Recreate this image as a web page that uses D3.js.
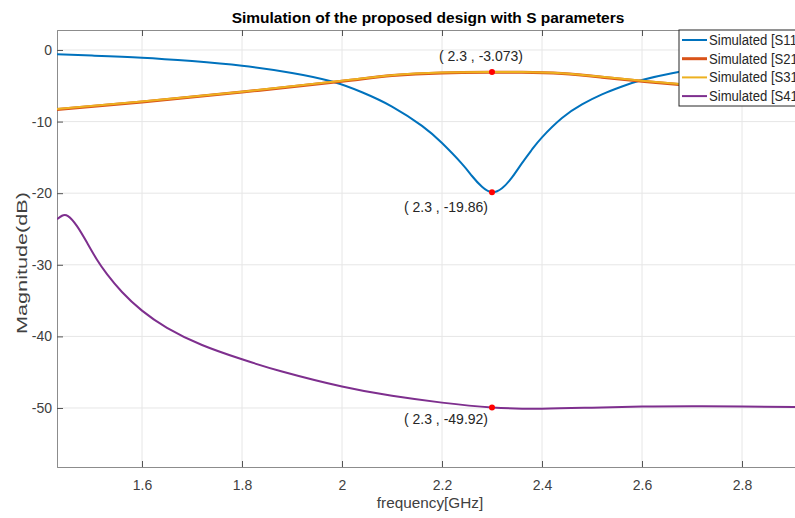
<!DOCTYPE html>
<html>
<head>
<meta charset="utf-8">
<script src="https://cdn.jsdelivr.net/npm/d3@7"></script>
<style>
  body { margin: 0; background: #fff; }
  svg { display: block; font-family: "Liberation Sans", Arial, sans-serif; }
</style>
</head>
<body>
<svg id="chart" width="795" height="518"></svg>
<script>
// S11
const s11Freq = [1.43, 1.5, 1.6, 1.7, 1.8, 1.9, 1.98, 2.04, 2.1, 2.16, 2.2, 2.24, 2.26, 2.28, 2.3, 2.32, 2.34, 2.36, 2.38, 2.4, 2.44, 2.48, 2.52, 2.56, 2.6, 2.66, 2.72, 2.8, 2.92]
const s11Mag = [-0.6, -0.78, -1.07, -1.55, -2.2, -3.2, -4.4, -5.9, -7.9, -10.6, -13.0, -15.9, -17.6, -19.1, -19.86, -19.3, -17.8, -15.8, -13.9, -12.2, -9.5, -7.6, -6.2, -5.1, -4.2, -3.25, -2.6, -2.0, -1.4]
// S21 / S31 (almost on top of each other)
const s21Freq = [1.43, 1.6, 1.8, 2.0, 2.1, 2.2, 2.3, 2.36, 2.44, 2.52, 2.6, 2.68, 2.8, 2.92]
const s21Mag = [-8.3, -7.26, -5.88, -4.36, -3.58, -3.2, -3.12, -3.12, -3.3, -3.8, -4.36, -4.86, -5.66, -6.46]
const s31Freq = [1.43, 1.6, 1.8, 2.0, 2.1, 2.2, 2.3, 2.36, 2.44, 2.52, 2.6, 2.68, 2.8, 2.92]
const s31Mag = [-8.24, -7.2, -5.82, -4.3, -3.52, -3.14, -3.073, -3.07, -3.25, -3.75, -4.3, -4.8, -5.6, -6.4]
// S41
const s41Freq = [1.43, 1.44, 1.452, 1.47, 1.49, 1.51, 1.53, 1.56, 1.6, 1.65, 1.72, 1.8, 1.88, 2.0, 2.1, 2.2, 2.3, 2.4, 2.5, 2.6, 2.7, 2.8, 2.92]
const s41Mag = [-23.65, -23.15, -23.2, -24.6, -26.9, -29.3, -31.3, -33.8, -36.4, -38.8, -41.2, -43.2, -44.9, -47.0, -48.3, -49.25, -49.92, -50.1, -49.95, -49.8, -49.75, -49.8, -49.85]

const xTicks = [1.6, 1.8, 2, 2.2, 2.4, 2.6, 2.8]
const yTicks = [0, -10, -20, -30, -40, -50]

const markerPoints = [
  { f: 2.3, v: -3.073, label: '( 2.3 , -3.073)', dx: -11, dy: -11 },
  { f: 2.3, v: -19.86, label: '( 2.3 , -19.86)', dx: -46, dy: 20 },
  { f: 2.3, v: -49.92, label: '( 2.3 , -49.92)', dx: -46, dy: 17 }
]

const series = [
  { name: 'Simulated [S11]', freq: s11Freq, mag: s11Mag, color: '#0072BD', width: 2 },
  { name: 'Simulated [S21]', freq: s21Freq, mag: s21Mag, color: '#D95319', width: 3 },
  { name: 'Simulated [S31]', freq: s31Freq, mag: s31Mag, color: '#EDB120', width: 2 },
  { name: 'Simulated [S41]', freq: s41Freq, mag: s41Mag, color: '#7E2F8E', width: 2 }
]

const svg = d3.select('#chart')
const plotL = 57, plotT = 30, plotR = 803, plotB = 467

const x = d3.scaleLinear().domain([1.43, 2.922]).range([plotL, plotR])
const y = d3.scaleLinear().domain([-58.24, 2.79]).range([plotB, plotT])

svg.append('defs').append('clipPath').attr('id', 'plot-clip')
  .append('rect')
    .attr('x', plotL).attr('y', plotT)
    .attr('width', plotR - plotL).attr('height', plotB - plotT)

// grid
const grid = svg.append('g')
grid.selectAll('.gx').data(xTicks).enter().append('line')
  .attr('x1', d => x(d)).attr('x2', d => x(d))
  .attr('y1', plotT).attr('y2', plotB)
  .attr('stroke', '#e6e6e6').attr('stroke-width', 1)
grid.selectAll('.gy').data(yTicks).enter().append('line')
  .attr('x1', plotL).attr('x2', plotR)
  .attr('y1', d => y(d)).attr('y2', d => y(d))
  .attr('stroke', '#e6e6e6').attr('stroke-width', 1)

// axes
const axisColor = '#8c8c8c'
const textColor = '#404040'

const xAxis = svg.append('g')
  .attr('transform', `translate(0,${plotB})`)
  .call(d3.axisBottom(x).tickValues(xTicks).tickSize(-6).tickPadding(13).tickFormat(d3.format('')))
const xAxisTop = svg.append('g')
  .attr('transform', `translate(0,${plotT})`)
  .call(d3.axisTop(x).tickValues(xTicks).tickSize(-6).tickFormat(''))
const yAxis = svg.append('g')
  .attr('transform', `translate(${plotL},0)`)
  .call(d3.axisLeft(y).tickValues(yTicks).tickSize(-6).tickPadding(5).tickFormat(d3.format('')))

for (const ax of [xAxis, xAxisTop, yAxis]) {
  ax.select('.domain').attr('stroke', axisColor)
  ax.selectAll('.tick line').attr('stroke', '#555')
  ax.selectAll('.tick text').attr('fill', textColor).style('font-size', '14px')
}
yAxis.selectAll('.tick text').text(d => d === 0 ? '0' : '-' + Math.abs(d))

// lines
const line = d3.line()
  .x(d => x(d.f))
  .y(d => y(d.v))
  .curve(d3.curveNatural)

const lines = svg.append('g').attr('clip-path', 'url(#plot-clip)')
for (const s of series) {
  lines.append('path')
    .datum(s.freq.map((f, i) => ({ f, v: s.mag[i] })))
    .attr('fill', 'none')
    .attr('stroke', s.color)
    .attr('stroke-width', s.width)
    .attr('stroke-linejoin', 'round')
    .attr('d', line)
}

// data tips
const tips = svg.append('g')
tips.selectAll('circle').data(markerPoints).enter().append('circle')
  .attr('cx', d => x(d.f)).attr('cy', d => y(d.v))
  .attr('r', 3).attr('fill', '#ff0000')
tips.selectAll('text').data(markerPoints).enter().append('text')
  .attr('x', d => x(d.f) + d.dx).attr('y', d => y(d.v) + d.dy)
  .attr('text-anchor', 'middle')
  .attr('fill', '#262626')
  .style('font-size', '14px')
  .text(d => d.label)

// title and labels
svg.append('text')
  .attr('x', 428).attr('y', 23)
  .attr('text-anchor', 'middle')
  .attr('fill', '#000')
  .style('font-size', '15.5px').style('font-weight', 'bold')
  .text('Simulation of the proposed design with S parameters')

svg.append('text')
  .attr('x', 430).attr('y', 508)
  .attr('text-anchor', 'middle')
  .attr('fill', textColor)
  .style('font-size', '15.3px')
  .text('frequency[GHz]')

svg.append('text')
  .attr('transform', 'translate(27,263) rotate(-90)')
  .attr('text-anchor', 'middle')
  .attr('fill', textColor)
  .style('font-size', '15px')
  .attr('textLength', 142)
  .attr('lengthAdjust', 'spacingAndGlyphs')
  .text('Magnitude(dB)')

// legend
const legend = svg.append('g').attr('transform', 'translate(679,30)')
legend.append('rect')
  .attr('x', 0).attr('y', 0)
  .attr('width', 124).attr('height', 76)
  .attr('fill', '#fff').attr('stroke', '#262626').attr('stroke-width', 1)
const rows = legend.selectAll('.row').data(series).enter().append('g')
  .attr('transform', (d, i) => `translate(0,${10 + i * 18.7})`)
rows.append('line')
  .attr('x1', 3).attr('x2', 28)
  .attr('stroke', d => d.color).attr('stroke-width', d => d.width)
rows.append('text')
  .attr('transform', 'translate(30,5) scale(0.905,1)')
  .attr('fill', '#262626')
  .style('font-size', '14.5px')
  .text(d => d.name)
</script>
</body>
</html>
